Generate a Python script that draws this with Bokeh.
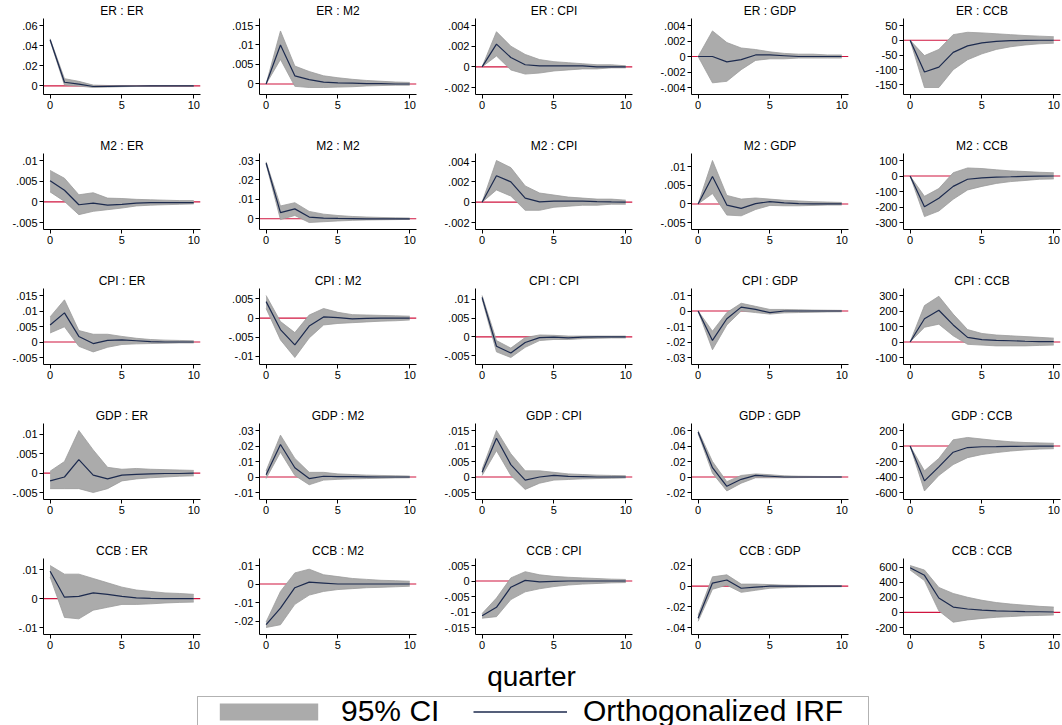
from bokeh.plotting import figure
from bokeh.models import (Range1d, Span, FixedTicker, Legend, LegendItem, Label,
                          CustomJSTickFormatter, BoxAnnotation)
from bokeh.layouts import gridplot, column
from bokeh.embed import file_html
from bokeh.resources import INLINE

# ---------------- data ----------------
steps = [0, 1, 2, 3, 4, 5, 6, 7, 8, 9, 10]
variables = ["ER", "M2", "CPI", "GDP", "CCB"]
x_ticks = [0, 5, 10]

irf_ER_ER = [.0458, .0036, .0018, -.0006, -.0004, -.0002, -.0001, 0, 0, 0, 0]
lo_ER_ER = [.0448, .0008, -.0002, -.0016, -.0012, -.0008, -.0005, -.0003, -.0002, -.0001, -.0001]
hi_ER_ER = [.0468, .0072, .0045, .0008, .0004, .0003, .0002, .0001, .0001, .0001, .0001]
yt_ER_ER = [0, .02, .04, .06]

irf_ER_M2 = [0, .0100, .0021, .0011, .0005, .0003, .0002, .0001, .0001, 0, 0]
lo_ER_M2 = [0, .0063, -.0006, -.0009, -.0009, -.0008, -.0007, -.0005, -.0004, -.0003, -.0003]
hi_ER_M2 = [0, .0136, .0046, .0032, .0021, .0016, .0012, .0009, .0007, .0005, .0004]
yt_ER_M2 = [0, .005, .01, .015]

irf_ER_CPI = [0, .0022, .0009, .0002, .0001, .0001, .0001, .0001, 0, 0, 0]
lo_ER_CPI = [0, .00105, -.0003, -.0007, -.0006, -.0004, -.0003, -.0002, -.0002, -.0001, -.0001]
hi_ER_CPI = [0, .0034, .0020, .0012, .0007, .0005, .0004, .0003, .0002, .0002, .0001]
yt_ER_CPI = [-.002, 0, .002, .004]

irf_ER_GDP = [0, 0, -.0007, -.0004, .0002, .0002, .0001, 0, 0, 0, 0]
lo_ER_GDP = [0, -.0034, -.0032, -.0017, -.0005, -.0003, -.0003, -.0002, -.0002, -.0002, -.0002]
hi_ER_GDP = [0, .0033, .0018, .0011, .0009, .0006, .0004, .0003, .0003, .0002, .0002]
yt_ER_GDP = [-.004, -.002, 0, .002, .004]

irf_ER_CCB = [0, -107.5, -91, -41, -19, -9, -4, -1.5, -0.5, 0, 0]
lo_ER_CCB = [0, -160, -160, -100, -66, -46, -31, -22, -16, -12, -10]
hi_ER_CCB = [0, -52, -31, 19, 27, 25, 22, 19, 16, 14, 12]
yt_ER_CCB = [-150, -100, -50, 0, 50]

irf_M2_ER = [.0051, .0028, -.0007, -.0003, -.0008, -.0006, -.0003, -.0002, -.0002, -.0002, -.0002]
lo_M2_ER = [.0024, .0001, -.0031, -.0023, -.0019, -.0015, -.0010, -.0008, -.0007, -.0006, -.0005]
hi_M2_ER = [.0076, .0057, .0017, .0022, .0009, .0008, .0006, .0005, .0004, .0003, .0003]
yt_M2_ER = [-.005, 0, .005, .01]

irf_M2_M2 = [.0287, .0032, .0051, .0009, .0004, .0002, .0001, 0, 0, 0, 0]
lo_M2_M2 = [.0281, -.0004, .0017, -.0019, -.0015, -.0011, -.0008, -.0006, -.0005, -.0004, -.0003]
hi_M2_M2 = [.0293, .0066, .0083, .0038, .0024, .0017, .0012, .0009, .0007, .0005, .0004]
yt_M2_M2 = [0, .01, .02, .03]

irf_M2_CPI = [0, .0026, .0020, .0004, .00003, .0001, .0001, .0001, .00005, .00002, 0]
lo_M2_CPI = [0, .0012, .0006, -.0008, -.0008, -.0005, -.0004, -.0003, -.0003, -.0002, -.0002]
hi_M2_CPI = [0, .0041, .0034, .0016, .0009, .0007, .0005, .0004, .0003, .0003, .0002]
yt_M2_CPI = [-.002, 0, .002, .004]

irf_M2_GDP = [0, .0074, -.0003, -.0012, .0001, .0006, .0003, .0001, 0, 0, 0]
lo_M2_GDP = [0, .0028, -.0030, -.0032, -.0015, -.0004, -.0005, -.0005, -.0004, -.0003, -.0003]
hi_M2_GDP = [0, .0117, .0023, .0013, .0016, .0013, .0010, .0008, .0006, .0005, .0004]
yt_M2_GDP = [-.005, 0, .005, .01]

irf_M2_CCB = [0, -198, -143, -67, -21, -12, -7, -5, -2, -1, 0]
lo_M2_CCB = [0, -262, -226, -150, -90, -67, -48, -36, -29, -21, -19]
hi_M2_CCB = [0, -131, -81, 21, 52, 48, 40, 33, 29, 24, 21]
yt_M2_CCB = [-300, -200, -100, 0, 100]

irf_CPI_ER = [.0055, .0094, .0018, -.0005, .0005, .0007, .0004, .0001, 0, 0, 0]
lo_CPI_ER = [.0029, .0049, -.0014, -.0032, -.0017, -.0008, -.0006, -.0005, -.0004, -.0003, -.0003]
hi_CPI_ER = [.0081, .0136, .0037, .0025, .0025, .0018, .0012, .0008, .0006, .0005, .0004]
yt_CPI_ER = [-.005, 0, .005, .01, .015]

irf_CPI_M2 = [.0043, -.0030, -.0070, -.0021, .0003, .0001, -.0002, -.0001, 0, 0, 0]
lo_CPI_M2 = [.0025, -.0057, -.0103, -.0052, -.0018, -.0014, -.0012, -.0010, -.0008, -.0007, -.0005]
hi_CPI_M2 = [.0059, -.0009, -.0038, .0008, .0025, .0015, .0009, .0008, .0007, .0006, .0005]
yt_CPI_M2 = [-.01, -.005, 0, .005]

irf_CPI_CPI = [.0105, -.0025, -.0043, -.0015, -.0002, -.0001, -.0003, -.0001, 0, 0, 0]
lo_CPI_CPI = [.0100, -.0040, -.0055, -.0028, -.0010, -.0007, -.0007, -.0005, -.0004, -.0003, -.0003]
hi_CPI_CPI = [.0110, -.0010, -.0030, -.0002, .0005, .0004, .0002, .0002, .0002, .0002, .0002]
yt_CPI_CPI = [-.005, 0, .005, .01]

irf_CPI_GDP = [0, -.019, -.005, .0025, .001, -.001, 0, 0, 0, 0, 0]
lo_CPI_GDP = [0, -.025, -.009, 0, -.001, -.002, -.0012, -.001, -.0008, -.0006, -.0005]
hi_CPI_GDP = [0, -.013, -.001, .005, .003, .001, .001, .0008, .0006, .0005, .0004]
yt_CPI_GDP = [-.03, -.02, -.01, 0, .01]

irf_CPI_CCB = [0, 150, 205, 110, 30, 15, 10, 8, 5, 3, 2]
lo_CPI_CCB = [0, 95, 115, 40, -15, -20, -25, -25, -25, -22, -20]
hi_CPI_CCB = [0, 235, 295, 180, 80, 55, 45, 40, 35, 30, 25]
yt_CPI_CCB = [-100, 0, 100, 200, 300]

irf_GDP_ER = [-.002, -.001, .0035, -.0005, -.0015, -.0005, -.0003, -.0002, -.0001, -.0001, 0]
lo_GDP_ER = [-.004, -.004, -.004, -.005, -.004, -.002, -.0015, -.0012, -.001, -.0008, -.0007]
hi_GDP_ER = [.0005, .003, .011, .006, .0015, .001, .0012, .001, .0009, .0008, .0007]
yt_GDP_ER = [-.005, 0, .005, .01]

irf_GDP_M2 = [.0015, .021, .006, -.001, .0005, .0003, .0002, .0001, 0, 0, 0]
lo_GDP_M2 = [-.001, .016, .001, -.005, -.002, -.0015, -.0012, -.001, -.0008, -.0006, -.0005]
hi_GDP_M2 = [.004, .027, .012, .003, .003, .002, .0016, .0012, .001, .0008, .0006]
yt_GDP_M2 = [-.01, 0, .01, .02, .03]

irf_GDP_CPI = [.0015, .0125, .004, -.001, 0, .0005, .0002, .0001, 0, 0, 0]
lo_GDP_CPI = [.0005, .0085, .0005, -.004, -.002, -.001, -.0008, -.0006, -.0005, -.0004, -.0003]
hi_GDP_CPI = [.0025, .015, .0075, .002, .002, .0015, .001, .0008, .0006, .0005, .0004]
yt_GDP_CPI = [-.005, 0, .005, .01, .015]

irf_GDP_GDP = [.058, .012, -.012, -.003, .002, .001, 0, 0, 0, 0, 0]
lo_GDP_GDP = [.056, .005, -.018, -.008, -.001, -.001, -.001, -.0008, -.0006, -.0005, -.0004]
hi_GDP_GDP = [.060, .020, -.006, .002, .004, .003, .0015, .001, .0008, .0006, .0005]
yt_GDP_GDP = [-.02, 0, .02, .04, .06]

irf_GDP_CCB = [0, -450, -270, -80, -20, -10, -8, -5, -3, -2, -1]
lo_GDP_CCB = [0, -580, -380, -240, -150, -110, -85, -65, -50, -40, -35]
hi_GDP_CCB = [0, -320, -160, 80, 110, 90, 70, 55, 45, 40, 35]
yt_GDP_CCB = [-600, -400, -200, 0, 200]

irf_CCB_ER = [.0095, .0005, .0008, .002, .0015, .0008, .0003, .0001, 0, 0, 0]
lo_CCB_ER = [.0075, -.0065, -.007, -.004, -.003, -.002, -.002, -.0018, -.0015, -.0013, -.0012]
hi_CCB_ER = [.0115, .0085, .0085, .007, .0055, .004, .003, .0025, .002, .0018, .0015]
yt_CCB_ER = [-.01, 0, .01]

irf_CCB_M2 = [-.022, -.013, -.002, .001, .0005, 0, 0, 0, 0, 0, 0]
lo_CCB_M2 = [-.0235, -.022, -.011, -.006, -.004, -.003, -.0025, -.002, -.0018, -.0015, -.0012]
hi_CCB_M2 = [-.0205, -.004, .006, .008, .005, .004, .003, .0025, .002, .0018, .0015]
yt_CCB_M2 = [-.02, -.01, 0, .01]

irf_CCB_CPI = [-.0112, -.0085, -.002, .0002, -.0003, -.0001, 0, 0, 0, 0, 0]
lo_CCB_CPI = [-.012, -.0115, -.006, -.0035, -.0025, -.0018, -.0013, -.001, -.0008, -.0006, -.0005]
hi_CCB_CPI = [-.0105, -.0055, .001, .003, .002, .0015, .0012, .001, .0008, .0006, .0005]
yt_CCB_CPI = [-.015, -.01, -.005, 0, .005]

irf_CCB_GDP = [-.031, .003, .006, -.002, -.001, 0, 0, 0, 0, 0, 0]
lo_CCB_GDP = [-.034, -.003, .001, -.006, -.004, -.002, -.0015, -.001, -.0008, -.0006, -.0005]
hi_CCB_GDP = [-.028, .009, .011, .002, .002, .0015, .001, .0008, .0006, .0005, .0004]
yt_CCB_GDP = [-.04, -.02, 0, .02]

irf_CCB_CCB = [590, 490, 190, 70, 45, 30, 20, 15, 10, 8, 5]
lo_CCB_CCB = [560, 420, 20, -130, -100, -80, -65, -55, -45, -40, -35]
hi_CCB_CCB = [620, 560, 330, 250, 200, 160, 130, 110, 95, 80, 70]
yt_CCB_CCB = [-200, 0, 200, 400, 600]

legend_labels = ["95% CI", "Orthogonalized IRF"]
x_title = "quarter"

# ---------------- styling / layout ----------------
FONT = "Liberation Sans"
CI_FILL = "#ababab"
CI_EDGE = "#9c9c9c"
IRF_COLOR = "#1c2a4e"
ZERO_COLOR = "#d0143f"

TOTAL_W, TOTAL_H = 1062, 725
FW, FH = 157, 76
COL_X = [0, 215, 430, 645, 860]        # left edge of each column cell
COL_L = [43, 44, 45, 46, 43]           # left border (room for y labels)
ROW_H = 134
B_TOP, B_BOTTOM, LAST_BOTTOM = 17, 41, 27
PAD = 7.0 / (FH - 14)

fmt = CustomJSTickFormatter(code="""
    if (tick == 0) return "0";
    let s = String(Number(tick.toPrecision(6)));
    s = s.replace(/^(-?)0\\./, "$1.");
    return s;
""")

g = globals()


def panel(imp, resp, r, c):
    irf = g[f"irf_{imp}_{resp}"]
    lo = g[f"lo_{imp}_{resp}"]
    hi = g[f"hi_{imp}_{resp}"]
    yt = g[f"yt_{imp}_{resp}"]
    ymin = min(min(lo), min(yt))
    ymax = max(max(hi), max(yt))
    sp = ymax - ymin
    cell_w = (COL_X[c + 1] if c < 4 else TOTAL_W) - COL_X[c]
    left = COL_L[c]
    right = cell_w - FW - left
    bottom = LAST_BOTTOM if r == 4 else B_BOTTOM
    p = figure(frame_width=FW, frame_height=FH,
               x_range=Range1d(-0.46, 10.47),
               y_range=Range1d(ymin - PAD * sp, ymax + PAD * sp),
               min_border_left=left, min_border_right=right,
               min_border_top=B_TOP, min_border_bottom=bottom,
               output_backend="svg", toolbar_location=None,
               title=f"{imp} : {resp}")
    p.title.align = "center"
    p.title.text_font = FONT
    p.title.text_font_size = "12px"
    p.title.text_font_style = "normal"
    p.title.text_color = "black"
    p.title.standoff = 2
    p.outline_line_color = None
    p.xgrid.visible = False
    p.ygrid.visible = False
    p.background_fill_color = "white"
    p.border_fill_color = "white"

    p.add_layout(Span(location=0, dimension="width", line_color=ZERO_COLOR,
                      line_width=1.1, level="underlay"))
    p.varea(x=steps, y1=lo, y2=hi, fill_color=CI_FILL)
    p.line(steps, lo, line_color=CI_EDGE, line_width=0.8)
    p.line(steps, hi, line_color=CI_EDGE, line_width=0.8)
    p.line(steps, irf, line_color=IRF_COLOR, line_width=1.2)

    p.xaxis.ticker = FixedTicker(ticks=x_ticks)
    p.yaxis.ticker = FixedTicker(ticks=yt)
    p.yaxis.formatter = fmt
    for ax in (p.xaxis[0], p.yaxis[0]):
        ax.axis_line_color = "black"
        ax.axis_line_width = 1
        ax.major_tick_line_color = "black"
        ax.major_tick_out = 4
        ax.major_tick_in = 0
        ax.minor_tick_out = 0
        ax.minor_tick_in = 0
        ax.major_label_text_font = FONT
        ax.major_label_text_font_size = "11px"
        ax.major_label_text_color = "black"
        ax.major_label_standoff = 2
    return p


rows = []
for r, imp in enumerate(variables):
    rows.append([panel(imp, resp, r, c) for c, resp in enumerate(variables)])

grid = gridplot(rows, toolbar_location=None)

GRID_H = 4 * ROW_H + B_TOP + FH + LAST_BOTTOM
LEG_H = TOTAL_H - GRID_H
pl = figure(width=TOTAL_W, height=LEG_H, x_range=Range1d(0, 1), y_range=Range1d(0, 1),
            min_border=0, output_backend="svg", toolbar_location=None)
pl.axis.visible = False
pl.xgrid.visible = False
pl.ygrid.visible = False
pl.outline_line_color = None

# dummy renderers (data outside the visible range) that give the legend its glyphs
r_ci = pl.varea(x=[5, 6], y1=[5, 5], y2=[6, 6], fill_color=CI_FILL)
r_irf = pl.line(x=[5, 6], y=[5, 5], line_color=IRF_COLOR, line_width=1.6)

pl.add_layout(Label(x=TOTAL_W / 2, y=LEG_H - 15, x_units="screen", y_units="screen",
                    text=x_title, text_align="center", text_baseline="middle",
                    text_font=FONT, text_font_size="28px", text_color="black"))

pl.add_layout(BoxAnnotation(left=197, right=868, bottom=2, top=34,
                            left_units="screen", right_units="screen",
                            bottom_units="screen", top_units="screen",
                            fill_alpha=0, line_color="black", line_width=1))


def leg(label, rend, x, gw, standoff):
    return Legend(items=[LegendItem(label=label, renderers=[rend])],
                  location=(x, 0), orientation="horizontal",
                  glyph_width=gw, glyph_height=21, label_standoff=standoff,
                  padding=0, margin=0, spacing=0,
                  label_text_font=FONT, label_text_font_size="30px",
                  label_text_color="black", label_height=38,
                  border_line_color=None, background_fill_alpha=0)


pl.add_layout(leg(legend_labels[0], r_ci, 207, 123, 11))
pl.add_layout(leg(legend_labels[1], r_irf, 473, 94, 16))

layout = column(grid, pl)
open("out.html", "w").write(file_html(layout, INLINE))
